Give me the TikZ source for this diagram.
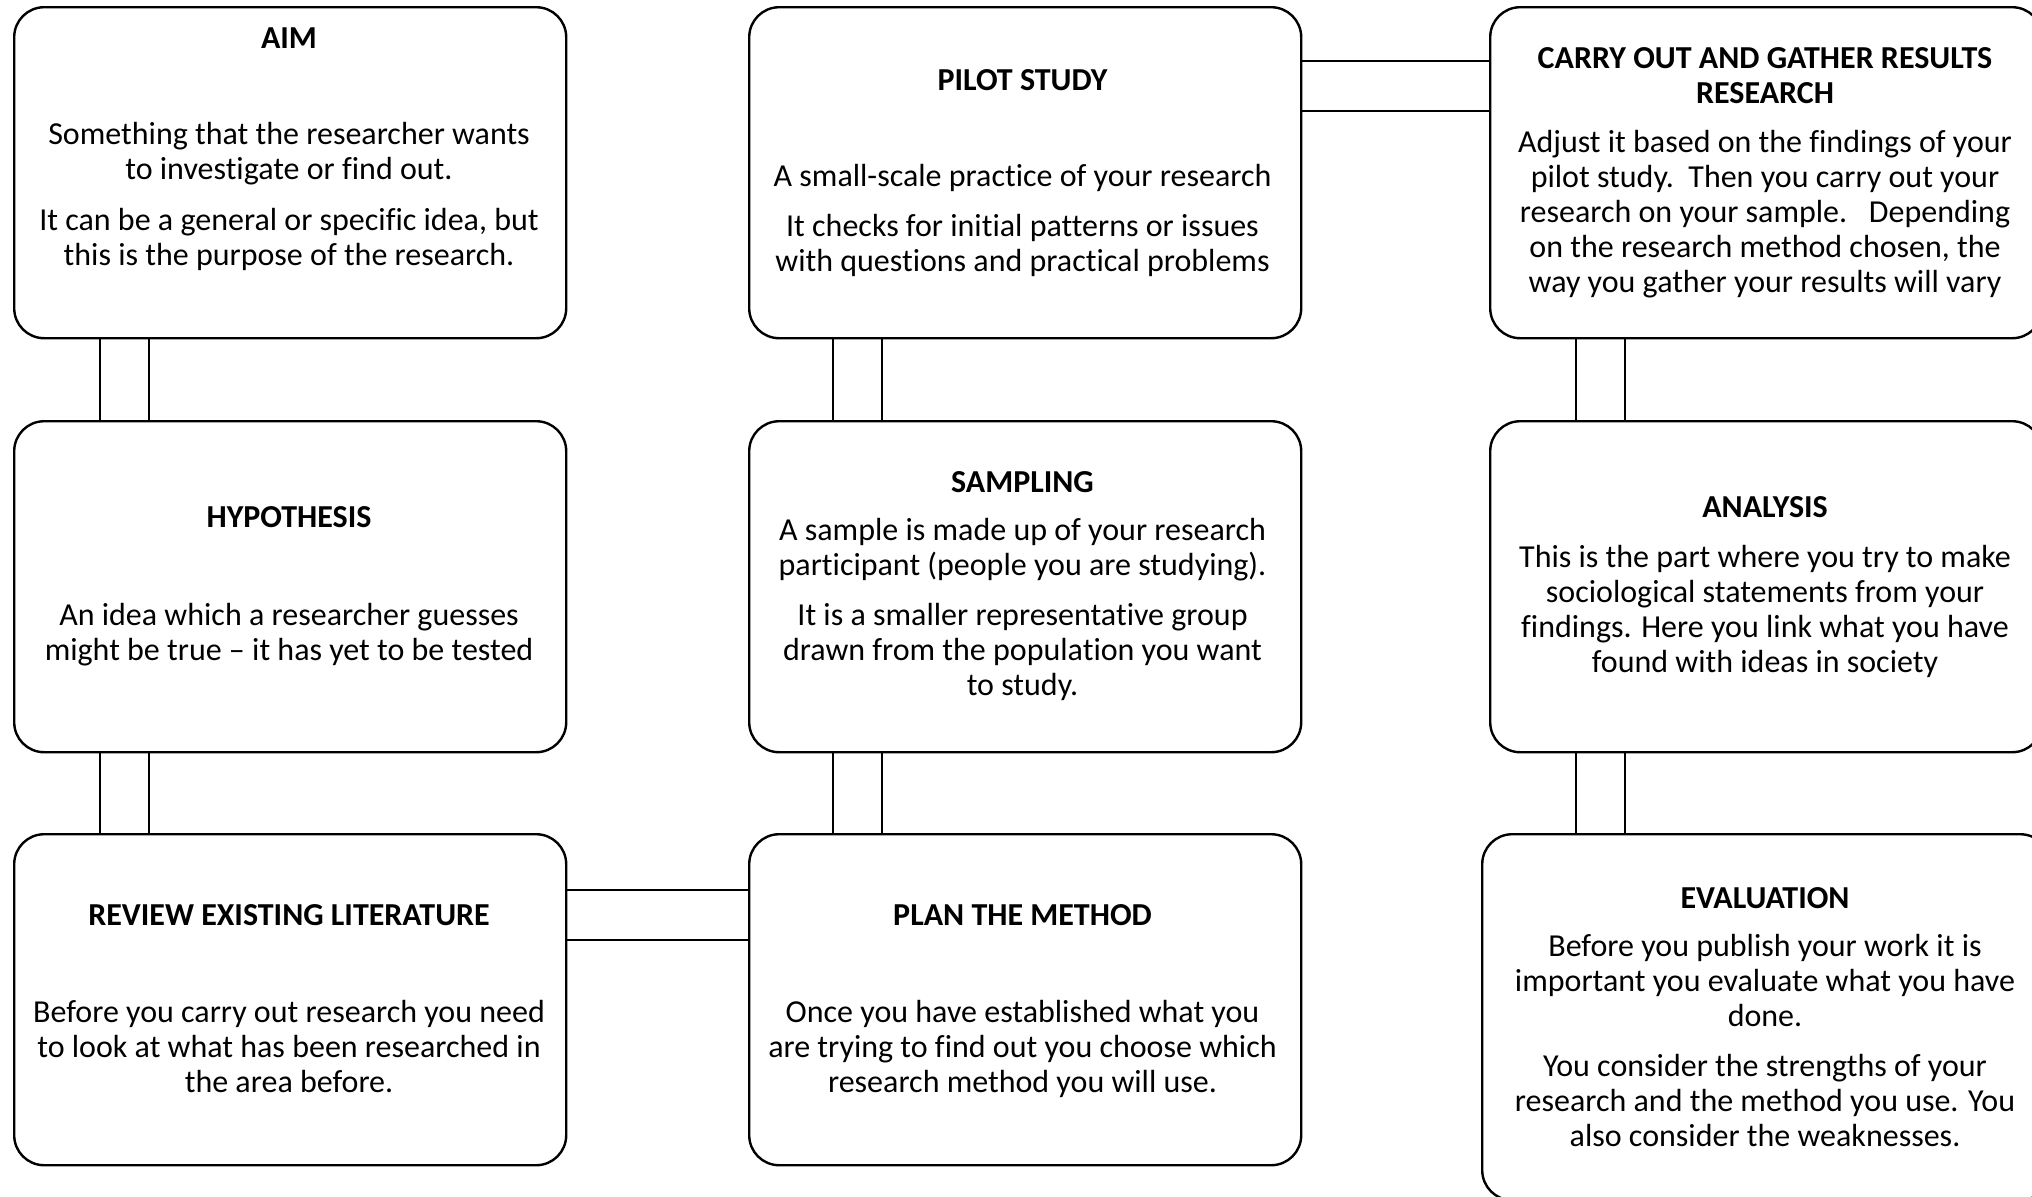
\documentclass[tikz,border=0pt]{standalone}
\usepackage{fontspec}
\setmainfont{Carlito}[Ligatures=NoCommon]
\usetikzlibrary{calc}

\newcommand{\cardfont}{\fontsize{16}{17.5}\selectfont}
\tikzset{
  card/.style={draw, line width=1.2pt, rounded corners=15pt,
    minimum width=276pt, minimum height=165.5pt, inner sep=0pt,
    anchor=north west},
  pipe/.style={line width=0.75pt},
  % multi-line texts sit on the baseline of their last line
  head/.style={font=\cardfont\bfseries, anchor=base, inner sep=0pt, align=center},
  body/.style={font=\cardfont, anchor=base, inner sep=0pt, align=center},
}
\newcommand{\pgap}{\\[7.75pt]}

\begin{document}
\begin{tikzpicture}[x=0.5pt, y=-0.5pt]
\useasboundingbox (0,0) rectangle (2032,1196);
\clip (0,0) rectangle (2032,1196);

% cards
\node[card] (aim)   at (13,6)    {};
\node[card] (hyp)   at (13,420)  {};
\node[card] (lit)   at (13,833)  {};
\node[card] (pilot) at (748,6)   {};
\node[card] (samp)  at (748,420) {};
\node[card] (plan)  at (748,833) {};
\node[card] (carry) at (1489,6)  {};
\node[card] (anal)  at (1489,420){};
\node[card, minimum width=284pt, minimum height=183pt] (eval) at (1481,833) {};

% double-line links between cards
\foreach \a/\b/\d in {aim/hyp/87, hyp/lit/87, pilot/samp/85, samp/plan/85, carry/anal/87}{
  \draw[pipe] ($(\a.south west)+(\d,0)$) -- ($(\b.north west)+(\d,0)$);
  \draw[pipe] ($(\a.south west)+(\d+49,0)$) -- ($(\b.north west)+(\d+49,0)$);
}
\draw[pipe] ($(anal.south west)+(87,0)$) -- (eval.north west -| {$(anal.south west)+(87,0)$});
\draw[pipe] ($(anal.south west)+(136,0)$) -- (eval.north west -| {$(anal.south west)+(136,0)$});
\draw[pipe] ($(pilot.north east)+(0,55)$)  -- ($(carry.north west)+(0,55)$);
\draw[pipe] ($(pilot.north east)+(0,105)$) -- ($(carry.north west)+(0,105)$);
\draw[pipe] ($(lit.north east)+(0,57)$)  -- ($(plan.north west)+(0,57)$);
\draw[pipe] ($(lit.north east)+(0,107)$) -- ($(plan.north west)+(0,107)$);

% column 1
\node[head] (aimT) at (289,48) {AIM};
\node[body] (aimB) at (289,265.3) {Something that the researcher wants\\to investigate or find out.\pgap It can be a general or specific idea, but\\this is the purpose of the research.};
\node[head] (hypT) at (289,527.5) {HYPOTHESIS};
\node[body] (hypB) at (289,660.5) {An idea which a researcher guesses\\might be true – it has yet to be tested};
\node[head] (litT) at (289,925.5) {REVIEW EXISTING LITERATURE};
\node[body] (litB) at (289,1092) {Before you carry out research you need\\to look at what has been researched in\\the area before.};

% column 2
\node[head] (pilotT) at (1022.5,90.8) {PILOT STUDY};
\node[body] (pilotB) at (1022.5,271.8) {A small-scale practice of your research\pgap It checks for initial patterns or issues\\with questions and practical problems};
\node[head] (sampT) at (1022.5,492.5) {SAMPLING};
\node[body] (sampB) at (1022.5,695.5) {A sample is made up of your research\\participant (people you are studying).\pgap It is a smaller representative group\\drawn from the population you want\\to study.};
\node[head] (planT) at (1022.5,925.5) {PLAN THE METHOD};
\node[body] (planB) at (1022.5,1092) {Once you have established what you\\are trying to find out you choose which\\research method you will use.};

% column 3
\node[head] (carryT) at (1765,103.8) {CARRY OUT AND GATHER RESULTS\\RESEARCH};
\node[body] (carryB) at (1765,292.5) {Adjust it based on the findings of your\\pilot study.\ \ Then you carry out your\\research on your sample.\ \ \ Depending\\on the research method chosen, the\\way you gather your results will vary};
\node[head] (analT) at (1765,517.2) {ANALYSIS};
\node[body] (analB) at (1765,672.2) {This is the part where you try to make\\sociological statements from your\\findings. Here you link what you have\\found with ideas in society};
\node[head] (evalT) at (1765,908.5) {EVALUATION};
\node[body] (evalB) at (1765,1146.5) {Before you publish your work it is\\important you evaluate what you have\\done.\pgap You consider the strengths of your\\research and the method you use. You\\also consider the weaknesses.};
\end{tikzpicture}
\end{document}
